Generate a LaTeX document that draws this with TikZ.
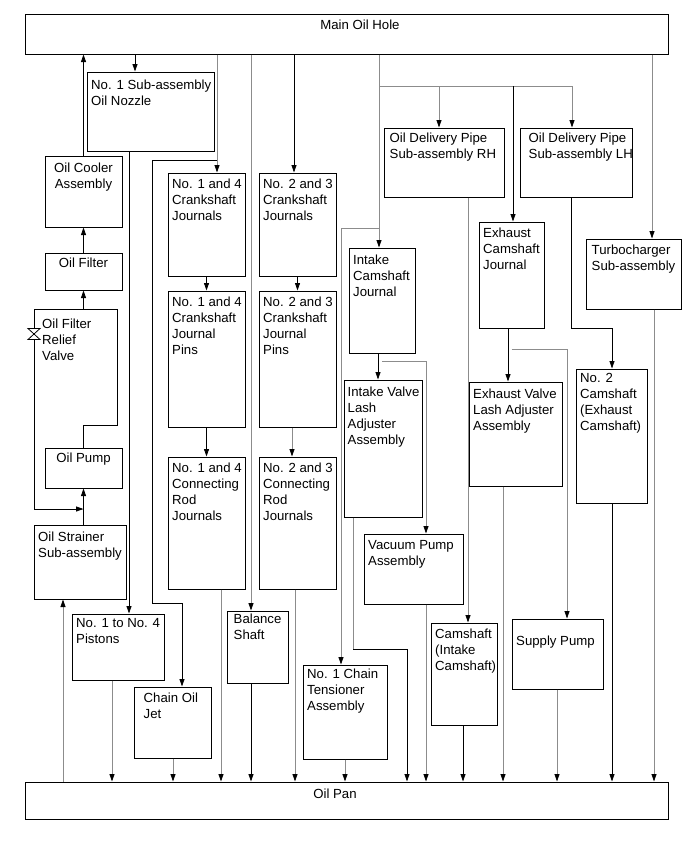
\documentclass[tikz,border=0pt]{standalone}
\usepackage{fontspec}
\setmainfont{Liberation Sans}
\usetikzlibrary{arrows.meta, fit}
\definecolor{lineMain}{HTML}{000000}
\definecolor{lineFaint}{HTML}{8C8C8C}
\definecolor{textMain}{HTML}{000000}
\tikzset{
  partbox/.style={
    draw=lineMain, line width=1pt, inner sep=0pt,
  },
  partlabel/.style={
    font=\fontsize{13.2}{16}\selectfont, text=textMain, align=left,
    inner sep=0pt, anchor=north west,
  },
  tag/.style={partlabel, xshift=4.5pt, yshift=-6pt},
  ctag/.style={partlabel, anchor=north, align=center, yshift=-6pt},
  stdarrow/.style={
    -{Triangle[length=7.5pt, width=5pt]}, line width=0.8pt, color=lineMain,
  },
  faintarrow/.style={
    -{Triangle[length=7.5pt, width=5pt, color=lineMain]}, line width=0.8pt, color=lineFaint,
  },
  pipeline/.style={line width=0.8pt, color=lineMain},
  faintline/.style={pipeline, color=lineFaint},
}
\begin{document}
\begin{tikzpicture}[x=1pt, y=-1pt]
  \useasboundingbox (0,0) rectangle (691,855);

  % === Rails: main oil hole and oil pan ===
  \node[partbox, fit={(25,14) (668,54)}, label={[partlabel, anchor=north, xshift=13.5pt, yshift=-6pt]north:Main Oil Hole}] (main) {};
  \node[partbox, fit={(25,782) (668,819)}, label={[partlabel, anchor=north, xshift=-11.5pt, yshift=-7pt]north:Oil Pan}] (pan) {};

  % === Left column: pump, filter, cooler ===
  \node[partbox, fit={(45,156) (122,227)}, label={[ctag, yshift=-1pt]north:Oil Cooler\\Assembly}] (cooler) {};
  \node[partbox, fit={(45,253) (122,290)}, label={[ctag, yshift=1pt]north:Oil Filter}] (filter) {};
  \node[partbox, fit={(45,448) (122,488)}, label={[ctag, yshift=1pt]north:Oil Pump}] (pump) {};
  \node[partbox, fit={(34,525) (126,599)}, label={[tag, yshift=-1.5pt]north west:Oil Strainer\\Sub-assembly}] (strainer) {};
  \node[partlabel] (relief) at (42,319) {Oil Filter\\Relief\\Valve};
  \coordinate (relieftl) at (34,309);
  \coordinate (relieftr) at (117,309);
  \coordinate (reliefbl) at (34,509);
  \coordinate (pumpbend) at (117,425);
  \coordinate (valve) at (34,334);

  % === Nozzle, pistons, chain oil jet ===
  \node[partbox, fit={(87,72) (214,151)}, label={[tag, yshift=-2pt]north west:No. 1 Sub-assembly\\Oil Nozzle}] (nozzle) {};
  \node[partbox, fit={(72,614) (164,680)}, label={[tag, yshift=1pt]north west:No. 1 to No. 4\\Pistons}] (pistons) {};
  \node[partbox, fit={(134,687) (211,758)}, label={[tag, xshift=5.5pt]north west:Chain Oil\\Jet}] (jet) {};

  % === Crankshaft columns ===
  \node[partbox, fit={(168,173) (245,276)}, label={[tag]north west:No. 1 and 4\\Crankshaft\\Journals}] (crankfour) {};
  \node[partbox, fit={(168,291) (245,427)}, label={[tag]north west:No. 1 and 4\\Crankshaft\\Journal\\Pins}] (pinsfour) {};
  \node[partbox, fit={(168,457) (245,589)}, label={[tag]north west:No. 1 and 4\\Connecting\\Rod\\Journals}] (rodfour) {};
  \node[partbox, fit={(259,173) (336,276)}, label={[tag]north west:No. 2 and 3\\Crankshaft\\Journals}] (crankthree) {};
  \node[partbox, fit={(259,291) (336,427)}, label={[tag]north west:No. 2 and 3\\Crankshaft\\Journal\\Pins}] (pinsthree) {};
  \node[partbox, fit={(259,457) (336,589)}, label={[tag]north west:No. 2 and 3\\Connecting\\Rod\\Journals}] (rodthree) {};
  \node[partbox, fit={(227,611) (288,683)}, label={[tag, xshift=2.5pt, yshift=3pt]north west:Balance\\Shaft}] (balance) {};
  \node[partbox, fit={(303,665) (387,759)}, label={[tag, yshift=2pt]north west:No. 1 Chain\\Tensioner\\Assembly}] (tensioner) {};

  % === Intake side ===
  \node[partbox, fit={(349,248) (415,353)}, label={[tag, yshift=-1pt]north west:Intake\\Camshaft\\Journal}] (intakejr) {};
  \node[partbox, fit={(344,380) (422,517)}, label={[tag, xshift=-0.5pt, yshift=-1pt]north west:Intake Valve\\Lash\\Adjuster\\Assembly}] (intakelash) {};
  \node[partbox, fit={(364,534) (463,604)}, label={[tag, yshift=-1pt]north west:Vacuum Pump\\Assembly}] (vacuum) {};
  \node[partbox, fit={(384,128) (504,197)}, label={[tag, xshift=1.5pt, yshift=1pt]north west:Oil Delivery Pipe\\Sub-assembly RH}] (piperh) {};
  \node[partbox, fit={(431,623) (497,725)}, label={[tag]north west:Camshaft\\(Intake\\Camshaft)}] (camin) {};

  % === Exhaust side ===
  \node[partbox, fit={(479,222) (544,328)}, label={[tag]north west:Exhaust\\Camshaft\\Journal}] (exhjr) {};
  \node[partbox, fit={(469,382) (562,486)}, label={[tag, yshift=-1pt]north west:Exhaust Valve\\Lash Adjuster\\Assembly}] (exhlash) {};
  \node[partbox, fit={(512,619) (603,689)}, label={[tag, yshift=-11pt]north west:Supply Pump}] (supply) {};
  \node[partbox, fit={(520,128) (632,197)}, label={[tag, xshift=4.5pt, yshift=1pt]north west:Oil Delivery Pipe\\Sub-assembly LH}] (pipelh) {};
  \node[partbox, fit={(576,369) (647,503)}, label={[tag, yshift=1pt]north west:No. 2\\Camshaft\\(Exhaust\\Camshaft)}] (camex) {};
  \node[partbox, fit={(586,239) (681,309)}, label={[tag, xshift=1.5pt]north west:Turbocharger\\Sub-assembly}] (turbo) {};

  % === Arrows: left loop ===
  \draw[faintarrow] (pan.north -| 63,0) -- (strainer.south -| 63,0);
  \draw[stdarrow] (strainer.north -| pump.south) -- (pump.south);
  \draw[pipeline] (pump.north) |- (pumpbend) -- (relieftr) -- (relieftl) -- (reliefbl);
  \draw[stdarrow] (reliefbl) -- (reliefbl -| pump.south);
  \draw[pipeline, fill=white] ([shift={(-6,-5.5)}]valve) -- ++(12,0) -- ++(-12,11) -- ++(12,0) -- cycle;
  \draw[stdarrow] (relieftl -| filter.south) -- (filter.south);
  \draw[stdarrow] (filter.north) -- (cooler.south);
  \draw[stdarrow] (cooler.north) -- (main.south -| cooler.north);

  % === Arrows: nozzle, crankshaft, balance shaft ===
  \draw[stdarrow] (main.south -| 135,0) -- (nozzle.north -| 135,0);
  \draw[stdarrow] (nozzle.south -| 129,0) -- (pistons.north -| 129,0);
  \draw[faintarrow] (pistons.south -| 112,0) -- (pan.north -| 112,0);
  \draw[faintarrow] (main.south -| 217,0) -- (crankfour.north -| 217,0);
  \coordinate (jettap) at (217,160);
  \draw[stdarrow] (jettap) -| (152,603) -| (jet.north -| 182,0);
  \draw[faintarrow] (jet.south -| 173,0) -- (pan.north -| 173,0);
  \draw[stdarrow] (crankfour.south) -- (pinsfour.north);
  \draw[stdarrow] (pinsfour.south) -- (rodfour.north);
  \draw[faintarrow] (rodfour.south -| 221,0) -- (pan.north -| 221,0);
  \draw[faintarrow] (main.south -| 251,0) -- (balance.north -| 251,0);
  \draw[stdarrow] (balance.south -| 251,0) -- (pan.north -| 251,0);
  \draw[stdarrow] (main.south -| 294,0) -- (crankthree.north -| 294,0);
  \draw[stdarrow] (crankthree.south) -- (pinsthree.north);
  \draw[faintarrow] (pinsthree.south -| 292,0) -- (rodthree.north -| 292,0);
  \draw[faintarrow] (rodthree.south -| 295,0) -- (pan.north -| 295,0);

  % === Arrows: camshaft feed ===
  \coordinate (split) at (379,86);
  \coordinate (tenstap) at (379,228);
  \draw[faintarrow] (main.south -| split) -- (intakejr.north -| split);
  \draw[faintarrow] (split) -| (pipelh.north -| 572,0);
  \draw[faintarrow] (split -| 439,0) -- (piperh.north -| 439,0);
  \draw[stdarrow] (split -| 513,0) -- (exhjr.north -| 513,0);
  \draw[faintarrow] (tenstap) -| (tensioner.north -| 341,0);
  \draw[faintarrow] (tensioner.south -| 345,0) -- (pan.north -| 345,0);
  \draw[stdarrow] (intakejr.south -| 378,0) -- (intakelash.north -| 378,0);
  \draw[faintarrow] (intakejr.south |- 378,361) -| (vacuum.north -| 426,0);
  \draw[faintline] (intakelash.south -| 353,0) -- (353,649);
  \draw[stdarrow] (353,649) -| (pan.north -| 407,0);
  \draw[faintarrow] (vacuum.south -| 426,0) -- (pan.north -| 426,0);
  \draw[faintarrow] (piperh.south -| 468,0) -- (camin.north -| 468,0);
  \draw[stdarrow] (camin.south -| 463,0) -- (pan.north -| 463,0);

  % === Arrows: exhaust side and turbocharger ===
  \draw[stdarrow] (exhjr.south -| 508,0) -- (exhlash.north -| 508,0);
  \draw[faintarrow] (exhjr.south |- 508,349) -| (supply.north -| 567,0);
  \draw[faintarrow] (exhlash.south -| 503,0) -- (pan.north -| 503,0);
  \draw[faintarrow] (supply.south -| 557,0) -- (pan.north -| 557,0);
  \draw[stdarrow] (pipelh.south -| 571,0) -- (571,328) -| (camex.north -| 612,0);
  \draw[stdarrow] (camex.south -| 612,0) -- (pan.north -| 612,0);
  \draw[faintarrow] (main.south -| 652,0) -- (turbo.north -| 652,0);
  \draw[faintarrow] (turbo.south -| 654,0) -- (pan.north -| 654,0);

\end{tikzpicture}
\end{document}
